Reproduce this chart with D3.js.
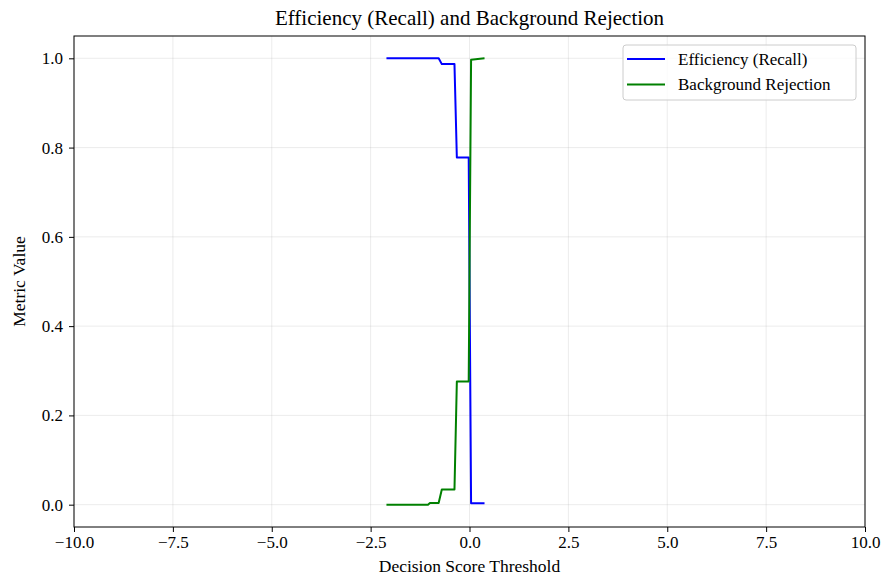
<!DOCTYPE html>
<html>
<head>
<meta charset="utf-8">
<script src="https://cdn.jsdelivr.net/npm/d3@7"></script>
<style>
  body { margin: 0; background: #fff; }
  svg { display: block; font-family: "Liberation Serif", "DejaVu Serif", serif; }
</style>
</head>
<body>
<svg id="chart"></svg>
<script>
// Data
const thresholds = [-2.10, -1.05, -1.00, -0.78, -0.70, -0.38, -0.32, -0.02, 0.04, 0.38];
const efficiency = [1.0, 1.0, 1.0, 1.0, 0.987, 0.987, 0.778, 0.778, 0.003, 0.003];
const rejection  = [0.0, 0.0, 0.004, 0.004, 0.034, 0.034, 0.276, 0.276, 0.997, 1.0];
const seriesNames = ["Efficiency (Recall)", "Background Rejection"];
const seriesColors = ["#0000ff", "#008000"];
const xTicks = [-10, -7.5, -5, -2.5, 0, 2.5, 5, 7.5, 10];
const yTicks = [0, 0.2, 0.4, 0.6, 0.8, 1.0];

const width = 883;
const height = 577;
const marginTop = 36;
const marginRight = 18;
const marginBottom = 50;
const marginLeft = 74;

const svg = d3.select("#chart")
    .attr("width", width)
    .attr("height", height)
    .attr("viewBox", [0, 0, width, height]);

const x = d3.scaleLinear()
    .domain([-10, 10])
    .range([marginLeft, width - marginRight]);

const y = d3.scaleLinear()
    .domain([-0.05, 1.05])
    .range([height - marginBottom, marginTop]);

const fmt = d => (d < 0 ? "\u2212" : "") + Math.abs(d).toFixed(1);

// grid
svg.append("g")
    .attr("stroke", "#b0b0b0")
    .attr("stroke-opacity", 0.3)
    .attr("stroke-width", 0.8)
  .selectAll("line.gx")
  .data(xTicks)
  .join("line")
    .attr("x1", d => x(d)).attr("x2", d => x(d))
    .attr("y1", marginTop).attr("y2", height - marginBottom);

svg.append("g")
    .attr("stroke", "#b0b0b0")
    .attr("stroke-opacity", 0.3)
    .attr("stroke-width", 0.8)
  .selectAll("line")
  .data(yTicks)
  .join("line")
    .attr("x1", marginLeft).attr("x2", width - marginRight)
    .attr("y1", d => y(d)).attr("y2", d => y(d));

// lines
const rows = thresholds.map((t, i) => ({t, eff: efficiency[i], rej: rejection[i]}));
const series = [
  {name: seriesNames[0], color: seriesColors[0], values: rows.map(r => [r.t, r.eff])},
  {name: seriesNames[1], color: seriesColors[1], values: rows.map(r => [r.t, r.rej])}
];

const line = d3.line()
    .x(d => x(d[0]))
    .y(d => y(d[1]));

svg.append("g")
    .attr("fill", "none")
    .attr("stroke-width", 2)
    .attr("stroke-linejoin", "round")
  .selectAll("path")
  .data(series)
  .join("path")
    .attr("stroke", d => d.color)
    .attr("d", d => line(d.values));

// axes
svg.append("g")
    .attr("transform", `translate(0,${height - marginBottom})`)
    .call(d3.axisBottom(x).tickValues(xTicks).tickFormat(fmt).tickSizeOuter(0).tickSize(5).tickPadding(4))
    .call(g => g.select(".domain").remove())
    .call(g => g.selectAll("line").attr("stroke", "#000").attr("stroke-width", 1))
    .call(g => g.selectAll("text").attr("fill", "#000").attr("font-size", 17).attr("font-family", "Liberation Serif"));

svg.append("g")
    .attr("transform", `translate(${marginLeft},0)`)
    .call(d3.axisLeft(y).tickValues(yTicks).tickFormat(fmt).tickSizeOuter(0).tickSize(5).tickPadding(6))
    .call(g => g.select(".domain").remove())
    .call(g => g.selectAll("line").attr("stroke", "#000").attr("stroke-width", 1))
    .call(g => g.selectAll("text").attr("fill", "#000").attr("font-size", 17).attr("font-family", "Liberation Serif"));

// frame
svg.append("rect")
    .attr("x", marginLeft)
    .attr("y", marginTop)
    .attr("width", width - marginLeft - marginRight)
    .attr("height", height - marginTop - marginBottom)
    .attr("fill", "none")
    .attr("stroke", "#000")
    .attr("stroke-width", 1);

// title & labels
svg.append("text")
    .attr("x", (marginLeft + width - marginRight) / 2)
    .attr("y", 25)
    .attr("text-anchor", "middle")
    .attr("font-size", 21)
    .text("Efficiency (Recall) and Background Rejection");

svg.append("text")
    .attr("x", (marginLeft + width - marginRight) / 2)
    .attr("y", height - 5)
    .attr("text-anchor", "middle")
    .attr("font-size", 17.5)
    .text("Decision Score Threshold");

svg.append("text")
    .attr("transform", `translate(25,${(marginTop + height - marginBottom) / 2}) rotate(-90)`)
    .attr("text-anchor", "middle")
    .attr("font-size", 17.5)
    .text("Metric Value");

// legend
const legend = svg.append("g")
    .attr("transform", `translate(623,45)`);

legend.append("rect")
    .attr("width", 233)
    .attr("height", 55)
    .attr("rx", 3)
    .attr("fill", "#fff")
    .attr("fill-opacity", 0.8)
    .attr("stroke", "#cccccc");

const items = legend.selectAll("g")
  .data(series)
  .join("g")
    .attr("transform", (d, i) => `translate(0,${14 + i * 25.5})`);

items.append("line")
    .attr("x1", 4).attr("x2", 42)
    .attr("stroke", d => d.color)
    .attr("stroke-width", 2);

items.append("text")
    .attr("x", 55)
    .attr("y", 5.5)
    .attr("font-size", 17)
    .text(d => d.name);
</script>
</body>
</html>
